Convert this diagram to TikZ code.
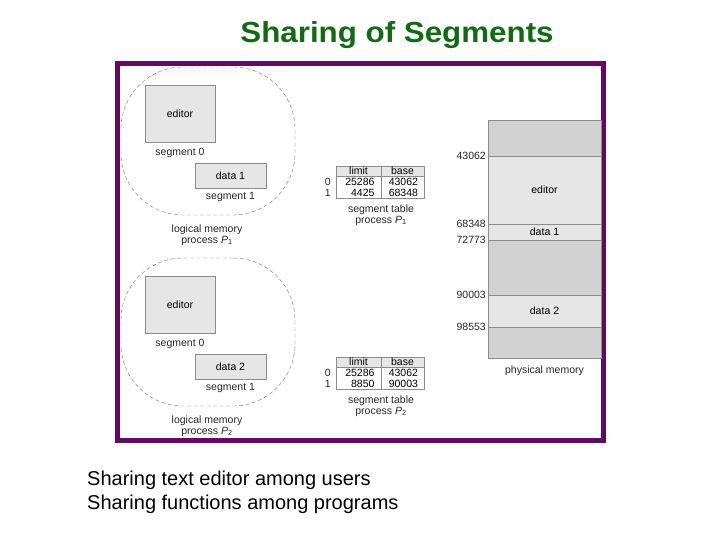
\documentclass[tikz,border=0pt]{standalone}
\usepackage{fontspec}
\setmainfont{Liberation Sans}
\newfontfamily\titlefont[FakeStretch=1.08]{Liberation Sans}
\usepackage{tikz}
\usetikzlibrary{positioning,calc}
\definecolor{titlegreen}{HTML}{146A14}
\definecolor{framepurple}{HTML}{620A62}
\definecolor{seglight}{HTML}{E6E6E6}
\definecolor{segdark}{HTML}{D2D2D2}
\definecolor{edgegray}{HTML}{8C8C8C}
\newcommand{\proc}[1]{\textit{P}\textsubscript{#1}}

\begin{document}
\begin{tikzpicture}[x=1pt,y=-1pt,font=\fontsize{10.5}{11}\selectfont,
  seg/.style={draw=edgegray,fill=seglight,inner sep=0pt,outer sep=0pt},
  lbl/.style={text=black!85,inner sep=0pt},
  blob/.style={draw=black!55,dash pattern=on 4pt off 2.5pt,thin,rounded corners=62,minimum width=174,minimum height=148,inner sep=0pt},
  hdr/.style={draw=edgegray,fill=seglight,minimum height=10,inner sep=0pt,outer sep=0pt},
  cell/.style={draw=edgegray,minimum height=22,inner sep=0pt,outer sep=0pt,align=right},
  mem/.style={draw=edgegray,minimum width=113,inner sep=0pt,outer sep=0pt},
  addr/.style={lbl,anchor=east}]
\useasboundingbox (0,0) rectangle (720,540);
\node[font=\titlefont\bfseries\fontsize{29}{34}\selectfont,text=titlegreen,anchor=base] (title) at (397,43) {Sharing of Segments};
\draw[framepurple,line width=5] (117.5,63.5) rectangle (603.5,440) coordinate (frame);

% process P1
\node[blob] (lm1) at (208,141) {};
\node[seg,minimum width=70,minimum height=57] (ed1) at (180,113.5) {editor};
\node[lbl,below=6pt of ed1] (s01) {segment 0};
\node[seg,minimum width=71,minimum height=25] (d1) at (230.5,175.5) {data 1};
\node[lbl,below=4pt of d1] (s11) {segment 1};
\node[lbl,align=center] (lmp1) at (207,235) {logical memory\\process \proc{1}};

\node[hdr,minimum width=45] (lim1) at (358.5,171) {limit};
\node[hdr,minimum width=43,right=0pt of lim1] (bas1) {base};
\node[cell,minimum width=45,text width=32,below=0pt of lim1] (lv1) {25286\\4425};
\node[cell,minimum width=43,text width=31,below=0pt of bas1] (bv1) {43062\\68348};
\node[lbl,align=center,left=5pt of lv1] (rows1) {0\\1};
\node[lbl,align=center] (st1) at (381,215) {segment table\\process \proc{1}};

% process P2
\node[blob] (lm2) at (208,332) {};
\node[seg,minimum width=70,minimum height=57] (ed2) at (180,304.5) {editor};
\node[lbl,below=6pt of ed2] (s02) {segment 0};
\node[seg,minimum width=71,minimum height=25] (d2) at (230.5,366.5) {data 2};
\node[lbl,below=4pt of d2] (s12) {segment 1};
\node[lbl,align=center] (lmp2) at (207,426) {logical memory\\process \proc{2}};

\node[hdr,minimum width=45] (lim2) at (358.5,362) {limit};
\node[hdr,minimum width=43,right=0pt of lim2] (bas2) {base};
\node[cell,minimum width=45,text width=32,below=0pt of lim2] (lv2) {25286\\8850};
\node[cell,minimum width=43,text width=31,below=0pt of bas2] (bv2) {43062\\90003};
\node[lbl,align=center,left=5pt of lv2] (rows2) {0\\1};
\node[lbl,align=center] (st2) at (381,406) {segment table\\process \proc{2}};

% physical memory
\node[mem,fill=segdark,minimum height=36,anchor=north] (pm0) at (544.5,120) {};
\node[mem,fill=seglight,minimum height=68,below=0pt of pm0] (pm1) {editor};
\node[mem,fill=seglight,minimum height=16,below=0pt of pm1] (pm2) {data 1};
\node[mem,fill=segdark,minimum height=55,below=0pt of pm2] (pm3) {};
\node[mem,fill=seglight,minimum height=32,below=0pt of pm3] (pm4) {data 2};
\node[mem,fill=segdark,minimum height=31,below=0pt of pm4] (pm5) {};
\node[addr,left=2pt of pm1.north west] (a1) {43062};
\node[addr,left=2pt of pm2.north west] (a2) {68348};
\node[addr,left=2pt of pm3.north west] (a3) {72773};
\node[addr,left=2pt of pm4.north west] (a4) {90003};
\node[addr,left=2pt of pm5.north west] (a5) {98553};
\node[lbl,below=8pt of pm5] (pmem) {physical memory};

\node[align=left,anchor=north west,inner sep=0pt,font=\fontsize{20}{23.5}\selectfont] (notes) at (87,471)
  {Sharing text editor among users\\Sharing functions among programs};
\end{tikzpicture}
\end{document}
